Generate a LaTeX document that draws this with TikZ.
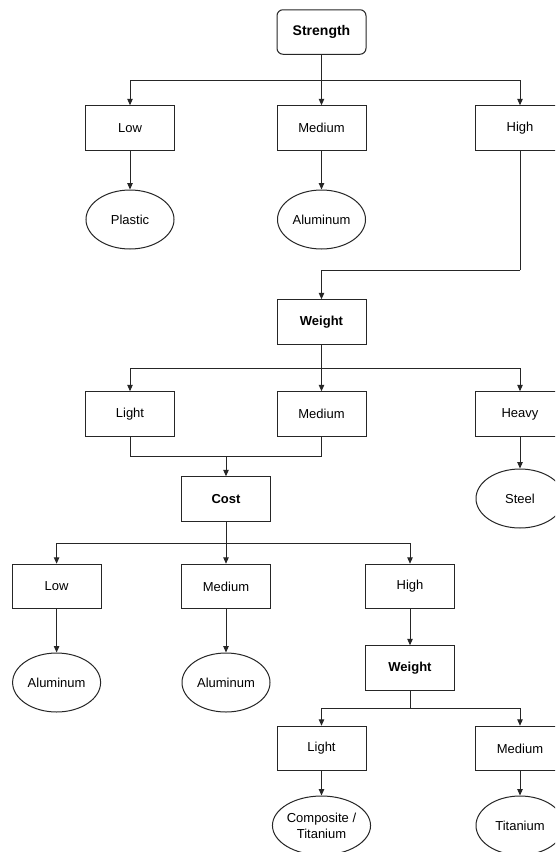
\documentclass[tikz,border=0pt]{standalone}
\usepackage{fontspec}
\setmainfont{Liberation Sans}
\usetikzlibrary{shapes.geometric,arrows.meta}
\begin{document}
\begin{tikzpicture}[x=1pt,y=-1pt,
  every node/.style={font=\fontsize{13}{16}\selectfont},
  boxnode/.style={draw=black!85,line width=1pt,minimum width=89pt,minimum height=44.5pt,inner sep=0pt,fill=white},
  rootnode/.style={boxnode,rounded corners=6pt,font=\fontsize{14}{16}\selectfont\bfseries},
  boldbox/.style={boxnode,font=\fontsize{13}{16}\selectfont\bfseries},
  leafnode/.style={draw=black!85,line width=1pt,ellipse,minimum width=88pt,minimum height=59pt,inner sep=0pt,align=center,fill=white},
  arr/.style={draw=black!85,line width=1pt,-{Triangle[length=6.5pt,width=5.5pt]}},
  ln/.style={draw=black!85,line width=1pt}
]
\useasboundingbox (0,0) rectangle (555,852);
\fill[white] (0,0) rectangle (555,852);
\clip (0,0) rectangle (555,852);

\node[rootnode] (strength) at (321.5,32) {Strength};
\node[boxnode] (low1) at (130,128) {Low};
\node[boxnode] (med1) at (321.5,128) {Medium};
\node[boxnode] (high1) at (520,128) {High};
\node[leafnode] (plastic) at (130,219.5) {Plastic};
\node[leafnode] (alu1) at (321.5,219.5) {Aluminum};

\node[boldbox] (weight1) at (321.5,322) {Weight};
\node[boxnode] (light1) at (130,414) {Light};
\node[boxnode] (med2) at (321.5,414) {Medium};
\node[boxnode] (heavy) at (520,414) {Heavy};
\node[leafnode] (steel) at (520,498.5) {Steel};

\node[boldbox] (cost) at (226,499) {Cost};
\node[boxnode] (low2) at (56.6,586.5) {Low};
\node[boxnode] (med3) at (226,586.5) {Medium};
\node[boxnode] (high2) at (410,586.5) {High};
\node[leafnode] (alul) at (56.6,682.5) {Aluminum};
\node[leafnode] (alum) at (226,682.5) {Aluminum};

\node[boldbox] (weight2) at (410,668) {Weight};
\node[boxnode] (light2) at (321.5,748.5) {Light};
\node[boxnode] (med4) at (520,748.5) {Medium};
\node[leafnode] (comp) at (321.5,825.5) {Composite /\\Titanium};
\node[leafnode] (titan) at (520,825.5) {Titanium};

\coordinate (j1) at (321.5,80);
\coordinate (j2) at (520,270);
\coordinate (j3) at (321.5,368);
\coordinate (j4) at (226,456);
\coordinate (j5) at (226,543);
\coordinate (j6) at (410,708);

\draw[ln] (strength.south) -- (j1);
\draw[arr] (j1) -| (low1.north);
\draw[arr] (j1) -- (med1.north);
\draw[arr] (j1) -| (high1.north);
\draw[arr] (low1) -- (plastic);
\draw[arr] (med1) -- (alu1);

\draw[ln] (high1.south) -- (j2);
\draw[arr] (j2) -| (weight1.north);

\draw[ln] (weight1.south) -- (j3);
\draw[arr] (j3) -| (light1.north);
\draw[arr] (j3) -- (med2.north);
\draw[arr] (j3) -| (heavy.north);
\draw[arr] (heavy) -- (steel);

\draw[ln] (light1.south) |- (j4);
\draw[ln] (med2.south) |- (j4);
\draw[arr] (j4) -- (cost.north);

\draw[ln] (cost.south) -- (j5);
\draw[arr] (j5) -| (low2.north);
\draw[arr] (j5) -- (med3.north);
\draw[arr] (j5) -| (high2.north);
\draw[arr] (low2) -- (alul);
\draw[arr] (med3) -- (alum);
\draw[arr] (high2) -- (weight2);

\draw[ln] (weight2.south) -- (j6);
\draw[arr] (j6) -| (light2.north);
\draw[arr] (j6) -| (med4.north);
\draw[arr] (light2) -- (comp);
\draw[arr] (med4) -- (titan);
\end{tikzpicture}
\end{document}
